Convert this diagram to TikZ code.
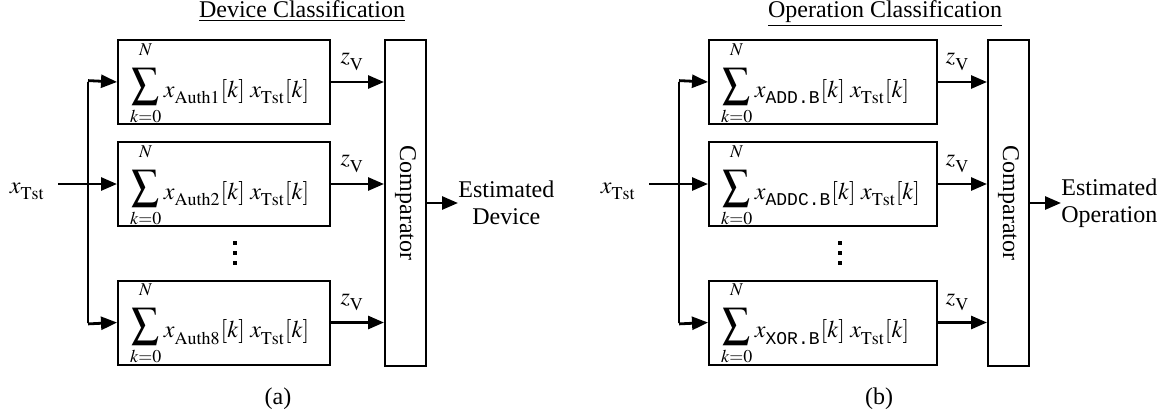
\documentclass[tikz,border=0pt]{standalone}
\usepackage{amsmath}
\usepackage{mathptmx}
\usepackage[no-math]{fontspec}
\setmainfont{Liberation Serif}
\setmonofont{Liberation Mono}
\usetikzlibrary{arrows.meta}
\newcommand{\fsz}{\fontsize{12}{13.5}\selectfont}
\newsavebox\sigbox
\newcommand{\bigsum}{%
  \sbox\sigbox{\resizebox*{14pt}{18.5pt}{$\displaystyle\sum$}}%
  \mathop{\raisebox{\dimexpr\dp\sigbox-4pt\relax}{\usebox\sigbox}}%
  \limits_{\rule{0pt}{6.7pt}k=0}^{N\rule[-5pt]{0pt}{5pt}}}
\newcommand{\lsub}[1]{_{\raisebox{-1.5pt}{$\scriptstyle #1$}}}
\begin{document}
\begin{tikzpicture}[x=0.5pt,y=-0.5pt,
  blk/.style={draw, line width=1pt, minimum height=42pt, inner xsep=6pt, inner ysep=0pt,
              text height=20pt, text depth=5pt, align=left, font=\fsz},
  blkA/.style={blk, text width=94pt},
  blkB/.style={blk, text width=102pt},
  cmpbox/.style={draw, line width=1pt, minimum width=20.5pt, minimum height=163pt, inner sep=0pt, font=\fsz},
  arr/.style={line width=1.4pt, -{Triangle[length=8pt,width=6.5pt]}},
  wire/.style={line width=1.4pt},
  lbl/.style={font=\fsz, inner sep=0pt},
  dotsq/.style={fill=black}
]
\useasboundingbox (0,0) rectangle (1164,419);

% ---------------- panel (a) ----------------
\node[lbl, anchor=base] (titA) at (302,17) {\underline{Device Classification}};
\node[blkA] (a1) at (224,82)    {$\bigsum x\lsub{\mathrm{Auth1}}[k]\; x\lsub{\mathrm{Tst}}[k]$};
\node[blkA] (a2) at (224,184)   {$\bigsum x\lsub{\mathrm{Auth2}}[k]\; x\lsub{\mathrm{Tst}}[k]$};
\node[blkA] (a3) at (224,322.5) {$\bigsum x\lsub{\mathrm{Auth8}}[k]\; x\lsub{\mathrm{Tst}}[k]$};
\node[cmpbox] (cmpA) at (405.5,203) {\rotatebox{-90}{Comparator}};
\node[lbl, anchor=base east] (xinA) at (45,193) {$x\lsub{\mathrm{Tst}}$};
\node[lbl, anchor=west, align=center] (estA) at (458,203) {Estimated\\Device};
\node[lbl, anchor=base] (capA) at (278,404) {(a)};
\coordinate (busA) at (88,0);
\draw[arr] ([xshift=6.5pt]xinA.east |- a2.west) -- (a2.west);
\draw[wire] (a1.west -| busA) -- (a3.west -| busA);
\draw[arr] ([yshift=0.7pt]a1.west -| busA) -- (a1.west);
\draw[arr] ([yshift=-0.7pt]a3.west -| busA) -- (a3.west);
\draw[arr] (a1.east) -- (a1.east -| cmpA.west) node[lbl, pos=0.4, above=5pt] (zA1) {$z\lsub{\mathrm{V}}$};
\draw[arr] (a2.east) -- (a2.east -| cmpA.west) node[lbl, pos=0.4, above=5pt] (zA2) {$z\lsub{\mathrm{V}}$};
\draw[arr] (a3.east) -- (a3.east -| cmpA.west) node[lbl, pos=0.4, above=5pt] (zA3) {$z\lsub{\mathrm{V}}$};
\draw[arr] (cmpA.east) -- (estA.west);
\foreach \yy in {243,253,263} \fill[dotsq] (232.8,\yy-2.2) rectangle (237.2,\yy+2.2);

% ---------------- panel (b) ----------------
\node[lbl, anchor=base] (titB) at (885,17) {\underline{Operation Classification}};
\node[blkB] (b1) at (823,82)    {$\bigsum x\lsub{\texttt{ADD.B}}[k]\; x\lsub{\mathrm{Tst}}[k]$};
\node[blkB] (b2) at (823,184)   {$\bigsum x\lsub{\texttt{ADDC.B}}[k]\; x\lsub{\mathrm{Tst}}[k]$};
\node[blkB] (b3) at (823,322.5) {$\bigsum x\lsub{\texttt{XOR.B}}[k]\; x\lsub{\mathrm{Tst}}[k]$};
\node[cmpbox] (cmpB) at (1008.5,203) {\rotatebox{-90}{Comparator}};
\node[lbl, anchor=base east] (xinB) at (636,193) {$x\lsub{\mathrm{Tst}}$};
\node[lbl, anchor=west, align=center] (estB) at (1061,203) {Estimated\\Operation};
\node[lbl, anchor=base] (capB) at (879,404) {(b)};
\coordinate (busB) at (679,0);
\draw[arr] ([xshift=6.5pt]xinB.east |- b2.west) -- (b2.west);
\draw[wire] (b1.west -| busB) -- (b3.west -| busB);
\draw[arr] ([yshift=0.7pt]b1.west -| busB) -- (b1.west);
\draw[arr] ([yshift=-0.7pt]b3.west -| busB) -- (b3.west);
\draw[arr] (b1.east) -- (b1.east -| cmpB.west) node[lbl, pos=0.4, above=5pt] (zB1) {$z\lsub{\mathrm{V}}$};
\draw[arr] (b2.east) -- (b2.east -| cmpB.west) node[lbl, pos=0.4, above=5pt] (zB2) {$z\lsub{\mathrm{V}}$};
\draw[arr] (b3.east) -- (b3.east -| cmpB.west) node[lbl, pos=0.4, above=5pt] (zB3) {$z\lsub{\mathrm{V}}$};
\draw[arr] (cmpB.east) -- (estB.west);
\foreach \yy in {243,253,263} \fill[dotsq] (837.8,\yy-2.2) rectangle (842.2,\yy+2.2);
\end{tikzpicture}
\end{document}
